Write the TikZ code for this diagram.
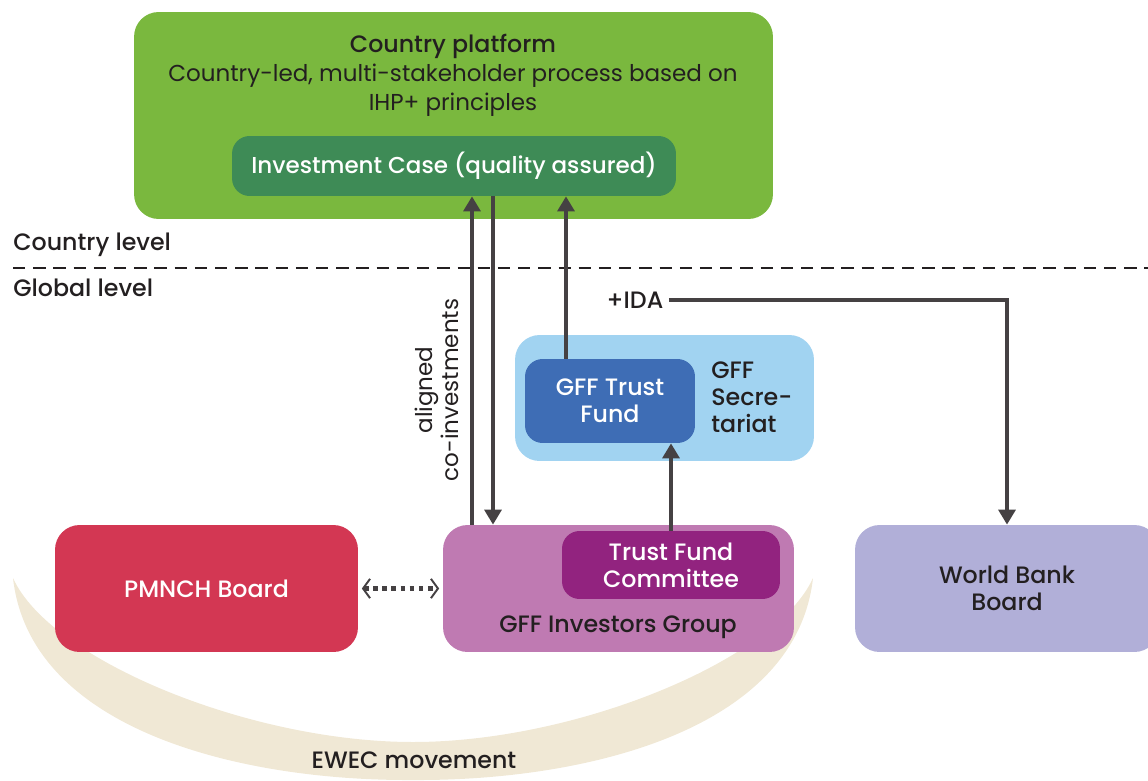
\documentclass[tikz,border=0pt]{standalone}
\usepackage{fontspec}
\setmainfont{Poppins}[BoldFont={Poppins Medium}]
\usetikzlibrary{arrows.meta}
\definecolor{platformgreen}{HTML}{7AB83E}
\definecolor{casegreen}{HTML}{3E8B56}
\definecolor{darktext}{HTML}{231F20}
\definecolor{secblue}{HTML}{A1D3F1}
\definecolor{fundblue}{HTML}{3E6DB5}
\definecolor{pmnchred}{HTML}{D33753}
\definecolor{investmauve}{HTML}{BF7AB2}
\definecolor{committeepurple}{HTML}{92237F}
\definecolor{bankviolet}{HTML}{B1AFD8}
\definecolor{ewecbeige}{HTML}{F0E8D5}
\definecolor{arrowgrey}{HTML}{454143}
\tikzset{
  box/.style={rounded corners=10pt, inner sep=0pt, align=center, text=white,
    font=\fontsize{13.5}{15.3}\selectfont\bfseries},
  bigbox/.style={box, rounded corners=14pt},
  label/.style={inner sep=0pt, text=darktext, font=\fontsize{13.5}{15.3}\selectfont\bfseries},
  plain/.style={inner sep=0pt, text=darktext, font=\fontsize{13.1}{16.4}\selectfont},
  flow/.style={line width=2.8pt, draw=arrowgrey, -{Triangle[length=8.5pt,width=9.5pt]}},
  linkdots/.style={line width=2.6pt, draw=arrowgrey, dash pattern=on 2.6pt off 2.6pt,
    {Straight Barb[length=4pt,width=11pt,line width=1.1pt]}-{Straight Barb[length=4pt,width=11pt,line width=1.1pt]}},
}
\begin{document}
\begin{tikzpicture}[x=0.02cm,y=-0.02cm]
	\useasboundingbox (0,0) rectangle (1148,780);
	% EWEC crescent behind the boards
	\fill[ewecbeige] (13,578) .. controls (30,730) and (240,781) .. (413,780)
		.. controls (586,781) and (796,730) .. (813,578)
		.. controls (776,660) and (576,742) .. (413,742)
		.. controls (250,742) and (50,660) .. (13,578) -- cycle;
	\node[label] (ewec) at (414,760) {EWEC movement};
	% country level
	\node[bigbox, fill=platformgreen, minimum width=12.78cm, minimum height=4.14cm] (platform) at (453.5,115.5) {};
	\node[label] (platformtitle) at (453,46) {Country platform};
	\node[plain, align=center] (platformtext) at (453,90) {Country-led, multi-stakeholder process based on\\IHP+ principles};
	\node[box, fill=casegreen, minimum width=8.88cm, minimum height=1.2cm, font=\fontsize{13.1}{15.3}\selectfont\bfseries] (invcase) at (454,166) {Investment Case (quality assured)};
	% level separation
	\node[label, anchor=west] (countrylevel) at (13,245) {Country level};
	\node[label, anchor=west] (globallevel) at (13,288) {Global level};
	\draw[line width=1.4pt, draw=darktext, dash pattern=on 7pt off 4.5pt] (13,268) -- (1148,268);
	% global level
	\node[bigbox, fill=secblue, minimum width=5.98cm, minimum height=2.52cm] (secretariat) at (664.5,398) {};
	\node[box, fill=fundblue, minimum width=3.4cm, minimum height=1.68cm] (trustfund) at (610,401) {GFF Trust\\Fund};
	\node[label, anchor=west, align=left] (sectext) at (711,397) {GFF\\Secre-\\tariat};
	\node[bigbox, fill=pmnchred, minimum width=6.06cm, minimum height=2.54cm] (pmnch) at (206.5,588.5) {PMNCH Board};
	\node[bigbox, fill=investmauve, minimum width=7.02cm, minimum height=2.54cm] (investors) at (618.5,588.5) {};
	\node[label] (investorstext) at (618,627) {GFF Investors Group};
	\node[box, fill=committeepurple, minimum width=4.36cm, minimum height=1.36cm] (committee) at (671,565) {Trust Fund\\Committee};
	\node[bigbox, fill=bankviolet, text=darktext, minimum width=6.08cm, minimum height=2.54cm] (worldbank) at (1007,588.5) {World Bank\\Board};
	\node[plain, rotate=90, align=center, font=\fontsize{13.1}{15}\selectfont] (coinvest) at (437,390) {aligned\\co-investments};
	\node[label, inner sep=3pt] (ida) at (635,300) {+IDA};
	% connectors
	\coordinate (colup) at (472,0);
	\coordinate (coldown) at (493,0);
	\coordinate (colfund) at (566,0);
	\draw[flow] (investors.north -| colup) -- (invcase.south -| colup);
	\draw[flow] (invcase.south -| coldown) -- (investors.north -| coldown);
	\draw[flow] (trustfund.north -| colfund) -- (invcase.south -| colfund);
	\draw[flow] (committee.north) -- (trustfund.south -| committee.north);
	\draw[flow] (ida.east) -| (worldbank.north);
	\draw[linkdots] ([xshift=2pt]pmnch.east) -- ([xshift=-2pt]investors.west);
\end{tikzpicture}
\end{document}
